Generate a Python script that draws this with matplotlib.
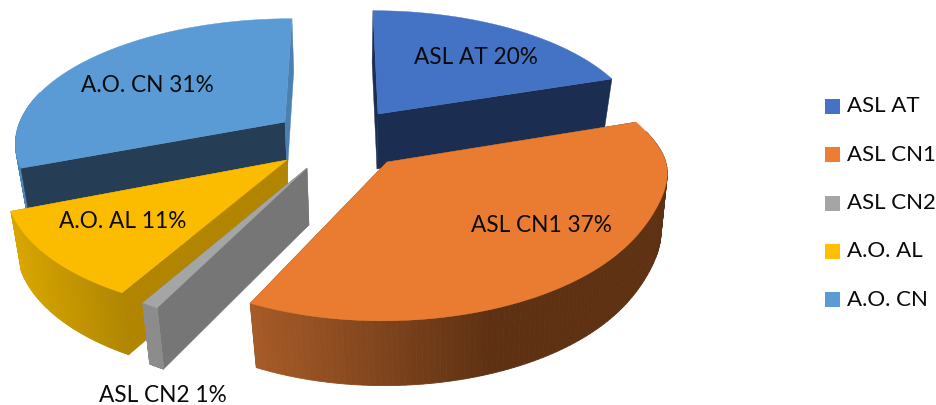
import numpy as np
import matplotlib
matplotlib.use("Agg")
import matplotlib.pyplot as plt
from matplotlib.colors import to_rgb
from matplotlib.patches import Polygon, Rectangle

plt.rcParams['font.family'] = ['Lato', 'DejaVu Sans']

# chart data
names = ['ASL AT', 'ASL CN1', 'ASL CN2', 'A.O. AL', 'A.O. CN']
percents = [20, 37, 1, 11, 31]

# styles, same order as names
top_colors = ['#4472C4', '#E97C30', '#A5A5A5', '#FBBC00', '#5B9BD5']
legend_colors = ['#4472C4', '#ED7D31', '#A5A5A5', '#FFC000', '#5B9BD5']
start_face = ['#1B2D50', '#5F3113', '#767676', '#B28500', '#253E56']
end_face = ['#1B2D50', '#5F3113', '#767676', '#B28500', '#4A80B2']
wall_left = ['#1B2D50', '#A85C28', '#8C8C8C', '#D9A600', '#4F86B8']
wall_right = ['#1B2D50', '#5F3113', '#8C8C8C', '#B08600', '#4F86B8']

# layout in pixels: tip of each exploded slice and its scaling
tips = [(378, 114), (387, 162), (307, 168), (287, 160), (285, 122)]
scale_x = [0.953, 0.99, 0.91, 1.014, 0.975]
scale_y = [0.88, 1.0, 0.99, 0.975, 0.88]
shear = [-5.8, 4, 26.7, 12, 8]
bulge = [0, 0.035, 0, 0, 0]
depth = [55, 60, 57, 58, 55]
bottom_dx = [-1, 2, 2, 2, 2]
faces_over_wall = [False, False, False, False, True]
label_pos = [(476, 57), (541, 226), (163, 396), (123, 222), (147, 85)]
draw_order = [4, 0, 3, 2, 1]

RX, RY, PERSP = 272, 135, 0.15
BOTTOM_SX, BOTTOM_SY = 0.97, 1.03
SHADE_SPAN = 240


def project(i, ang):
    # ang clockwise from 12 o'clock, returns offsets from the slice tip
    X, Y = np.sin(ang), np.cos(ang)
    X = X * (1 + bulge[i] * np.clip(X, 0, 1) ** 20)
    s = 1 / (1 + PERSP * Y)
    dx = s * (RX * scale_x[i] * X + shear[i] * Y)
    dy = -s * RY * scale_y[i] * Y
    return dx, dy


def lerp_color(c1, c2, t):
    a, b = np.array(to_rgb(c1)), np.array(to_rgb(c2))
    return tuple(a + (b - a) * t)


def draw_slice(ax, i, a0, a1):
    tx, ty = tips[i]
    ang = np.linspace(a0, a1, 120)
    dx, dy = project(i, ang)
    xt, yt = tx + dx, ty + dy
    bx0, by0 = tx + bottom_dx[i], ty + depth[i]
    xb, yb = bx0 + BOTTOM_SX * dx, by0 + BOTTOM_SY * dy

    # radial cut faces
    face_z = 3 if faces_over_wall[i] else 1
    for k, col in ((0, start_face[i]), (-1, end_face[i])):
        pts = [(tx, ty), (xt[k], yt[k]), (xb[k], yb[k]), (bx0, by0)]
        p = Polygon(pts, closed=True, fc=col, ec=col, lw=0.3)
        p.set_zorder(base_z[i] + face_z)
        ax.add_patch(p)

    # outer wall, near side only, shaded by screen x
    lo = xt.min()
    hi = lo + min(xt.max() - lo, SHADE_SPAN)
    for k in range(len(ang) - 1):
        if np.cos(ang[k]) > 0.25:
            continue
        t = np.clip((xt[k] - lo) / max(hi - lo, 1), 0, 1)
        col = lerp_color(wall_left[i], wall_right[i], t)
        pts = [(xt[k], yt[k]), (xt[k + 1], yt[k + 1]), (xb[k + 1], yb[k + 1]), (xb[k], yb[k])]
        p = Polygon(pts, closed=True, fc=col, ec=col, lw=0.6)
        p.set_zorder(base_z[i] + 2)
        ax.add_patch(p)

    # top surface
    outline = np.column_stack([np.r_[tx, xt], np.r_[ty, yt]])
    p = Polygon(outline, closed=True, fc=top_colors[i], ec=top_colors[i], lw=0.3)
    p.set_zorder(base_z[i] + 4)
    ax.add_patch(p)


fig = plt.figure(figsize=(9.36, 4.05), dpi=100)
ax = fig.add_axes([0, 0, 1, 1])
ax.set_xlim(0, 936)
ax.set_ylim(405, 0)
ax.axis('off')

base_z = {slice_i: 10 * n for n, slice_i in enumerate(draw_order)}
edges = np.r_[0, np.cumsum(percents)] / sum(percents) * 2 * np.pi
for i in draw_order:
    draw_slice(ax, i, edges[i], edges[i + 1])

for i, name in enumerate(names):
    x, y = label_pos[i]
    ax.text(x, y, f"{name} {percents[i]}%", ha='center', va='center', fontsize=16.3,
            color='#0A0A0A', zorder=100)

# legend
for i, name in enumerate(names):
    y = 99 + 48.25 * i
    ax.add_patch(Rectangle((825, y), 15, 15, fc=legend_colors[i], ec='none'))
    ax.text(847, y + 7.5, name, ha='left', va='center', fontsize=16, color='#0A0A0A')

fig.savefig('out.png', dpi=100)
